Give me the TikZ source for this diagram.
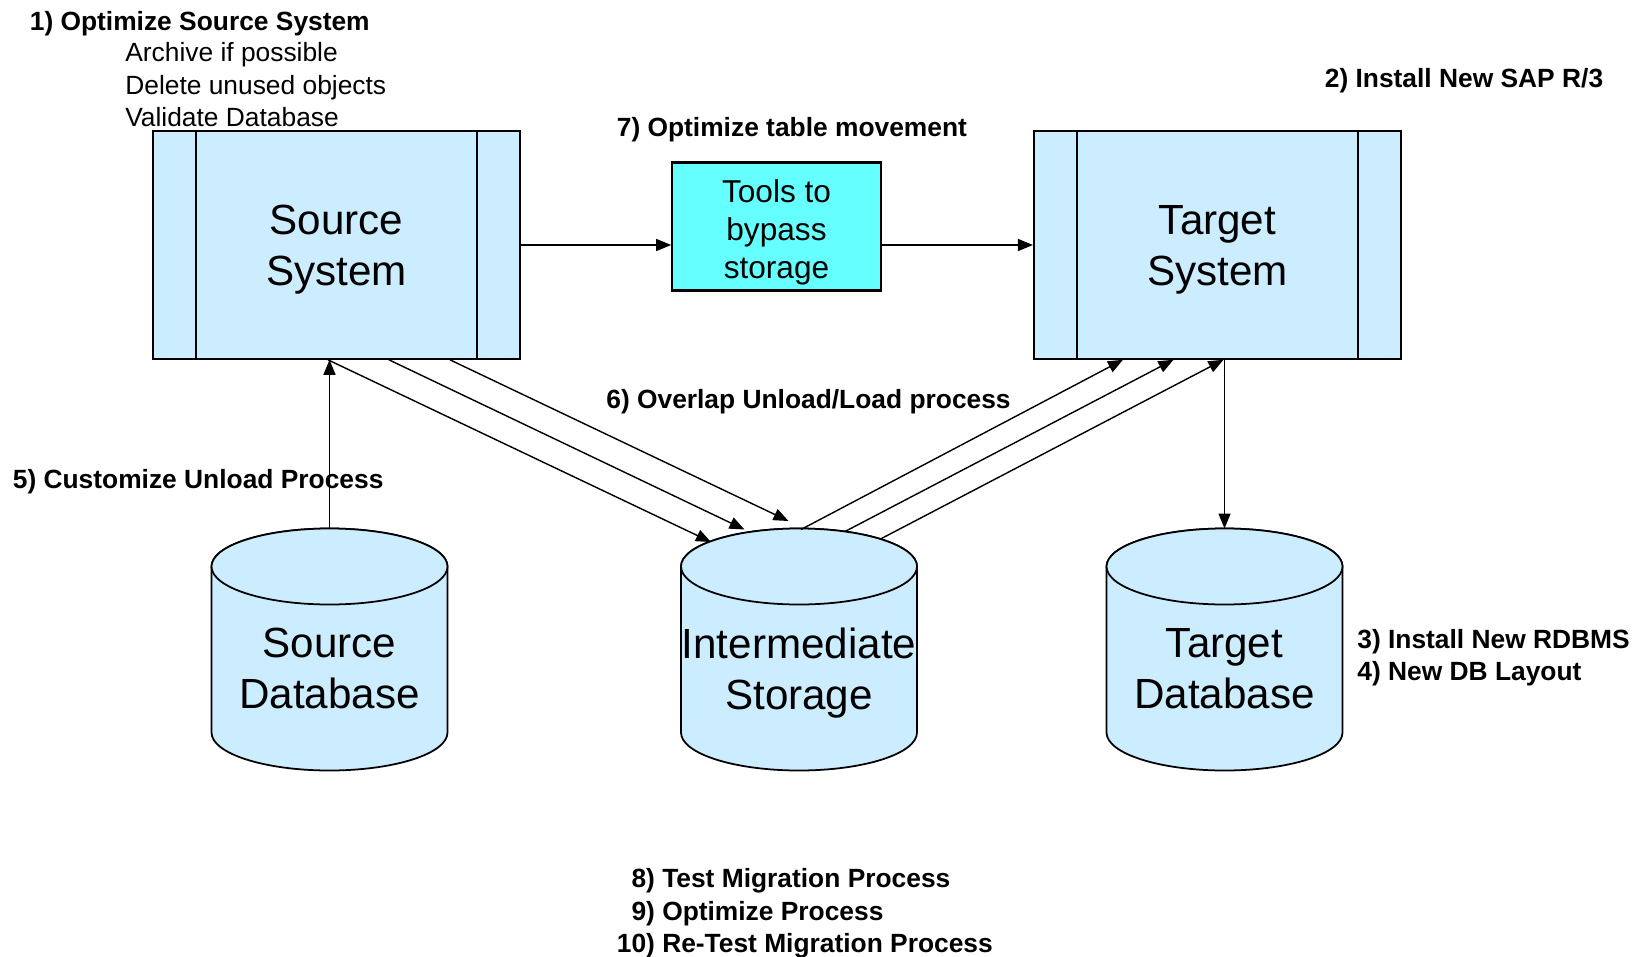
\documentclass[tikz,border=0pt]{standalone}
\usepackage{fontspec}
\setmainfont{Liberation Sans}
\usetikzlibrary{arrows.meta,positioning}
\definecolor{sysblue}{HTML}{CCECFF}
\definecolor{toolcyan}{HTML}{66FFFF}

\begin{document}
\begin{tikzpicture}[
  sysbox/.style={draw, line width=1.2pt, fill=sysblue, minimum width=7.34cm, minimum height=4.55cm},
  systext/.style={align=center, inner sep=0pt, font=\fontsize{24}{29}\selectfont},
  toolbox/.style={draw, line width=1.2pt, fill=toolcyan, minimum width=4.17cm, minimum height=2.56cm},
  tooltext/.style={align=center, inner sep=0pt, font=\fontsize{18}{21.8}\selectfont},
  dbtext/.style={align=center, inner sep=0pt, font=\fontsize{24}{29}\selectfont},
  cyl/.style={draw, line width=1pt, fill=sysblue},
  bar/.style={line width=0.9pt},
  lbl/.style={anchor=west, align=left, inner sep=0pt, font=\fontsize{15}{18.5}\selectfont\bfseries},
  txt/.style={anchor=west, align=left, inner sep=0pt, font=\fontsize{15}{18.5}\selectfont},
  arr/.style={-{Triangle[length=0.3cm,width=0.24cm]}, line width=0.8pt}
]
  \useasboundingbox (0,0) rectangle (32.88,-19.14);

  % systems and tools
  \node[sysbox] (src) at (6.73,-4.90) {};
  \node[sysbox] (tgt) at (24.35,-4.90) {};
  \node[toolbox] (tools) at (15.53,-4.53) {};
  \foreach \n in {src,tgt} {
    \draw[bar] ([xshift=0.88cm]\n.north west) -- ([xshift=0.88cm]\n.south west);
    \draw[bar] ([xshift=-0.88cm]\n.north east) -- ([xshift=-0.88cm]\n.south east);
  }
  \node[systext] (srctext) at ([yshift=-0.1cm]src.center) {Source\\System};
  \node[systext] (tgttext) at ([yshift=-0.1cm]tgt.center) {Target\\System};
  \node[tooltext] (tooltxt) at ([yshift=-0.12cm]tools.center) {Tools to\\bypass\\storage};

  % databases
  \foreach \x in {6.59,15.98,24.49} {
    \filldraw[cyl] (\x-2.36,-11.33) -- (\x-2.36,-14.65)
      arc[start angle=180, end angle=360, x radius=2.36cm, y radius=0.76cm]
      -- (\x+2.36,-11.33)
      arc[start angle=0, end angle=180, x radius=2.36cm, y radius=0.76cm] -- cycle;
    \draw[cyl] (\x,-11.33) ellipse[x radius=2.36cm, y radius=0.76cm];
  }
  \node[dbtext] (srcdb) at (6.59,-13.37) {Source\\Database};
  \node[dbtext] (middb) at (15.98,-13.47) {Intermediate\\Storage};
  \node[dbtext] (tgtdb) at (24.49,-13.37) {Target\\Database};
  \coordinate (srcdbtop) at (6.59,-10.57);
  \coordinate (tgtdbtop) at (24.49,-10.57);
  \coordinate (in1) at (14.22,-10.84);
  \coordinate (in2) at (14.89,-10.59);
  \coordinate (in3) at (15.77,-10.42);
  \coordinate (out1) at (16.02,-10.59);
  \coordinate (out2) at (16.90,-10.63);
  \coordinate (out3) at (17.61,-10.78);

  % connectors
  \draw[arr] (src.east) -- (tools.west |- src.east);
  \draw[arr] (tools.east |- src.east) -- (tgt.west);
  \draw[arr] (srcdbtop) -- (srcdbtop |- src.south);
  \draw[arr] (tgtdbtop |- tgt.south) -- (tgtdbtop);
  \draw[arr] ([xshift=3.52cm]src.south west) -- (in1);
  \draw[arr] ([xshift=4.74cm]src.south west) -- (in2);
  \draw[arr] ([xshift=5.96cm]src.south west) -- (in3);
  \draw[arr] (out1) -- ([xshift=1.80cm]tgt.south west);
  \draw[arr] (out2) -- ([xshift=2.81cm]tgt.south west);
  \draw[arr] (out3) -- ([xshift=3.81cm]tgt.south west);

  % labels
  \node[lbl] (step1) at (0.59,-0.47) {1) Optimize Source System};
  \node[txt] (step1sub) at (2.50,-1.70) {Archive if possible\\Delete unused objects\\Validate Database};
  \node[lbl] (step2) at (26.49,-1.62) {2) Install New SAP R/3};
  \node[lbl] (step7) at (12.33,-2.59) {7) Optimize table movement};
  \node[lbl] (step6) at (12.12,-8.04) {6) Overlap Unload/Load process};
  \node[lbl] (step5) at (0.25,-9.64) {5) Customize Unload Process};
  \node[lbl] (step34) at (27.14,-13.15) {3) Install New RDBMS\\4) New DB Layout};
  \node[lbl] (step810) at (12.33,-18.27) {\hphantom{1}8) Test Migration Process\\\hphantom{1}9) Optimize Process\\10) Re-Test Migration Process};
\end{tikzpicture}
\end{document}
